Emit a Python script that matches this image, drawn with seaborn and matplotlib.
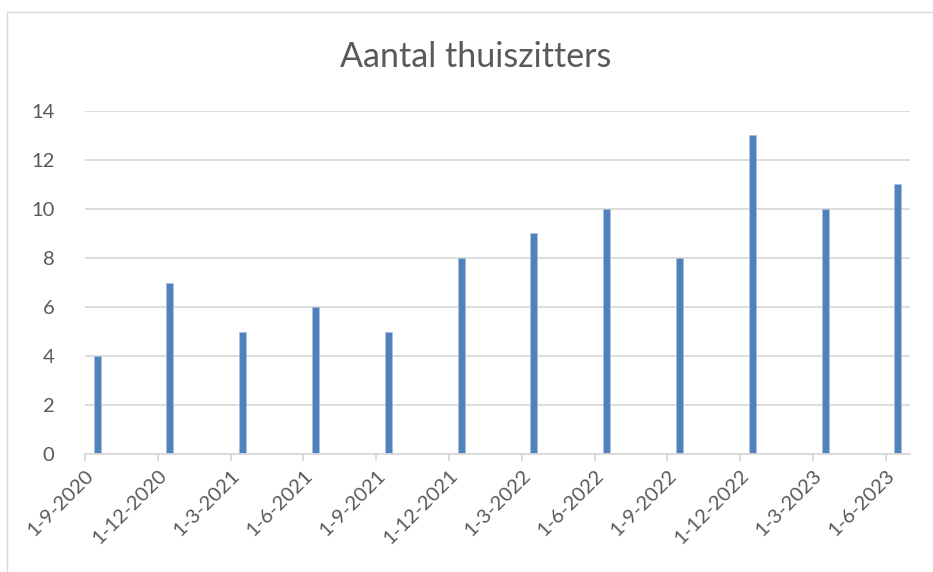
import matplotlib
matplotlib.use("Agg")
import matplotlib.pyplot as plt
from matplotlib.lines import Line2D
import pandas as pd
import seaborn as sns

# data
dates = ["1-9-2020", "1-12-2020", "1-3-2021", "1-6-2021", "1-9-2021", "1-12-2021",
         "1-3-2022", "1-6-2022", "1-9-2022", "1-12-2022", "1-3-2023", "1-6-2023"]
counts = [4, 7, 5, 6, 5, 8, 9, 10, 8, 13, 10, 11]

sns.set_theme(style="white")
plt.rcParams["font.family"] = ["Lato", "DejaVu Sans"]

TEXT = "#595959"
GRID = "#d9d9d9"
BAR = "#4f81bd"

# Excel-style month axis: each bar sits in the middle of its month cell
d = pd.to_datetime(dates, format="%d-%m-%Y")
months = (d.year - 2020) * 12 + (d.month - 9)
df = pd.DataFrame({"month": months + 0.5, "count": counts})

fig = plt.figure(figsize=(9.33, 5.72), dpi=100)
ax = fig.add_axes([85 / 933, 118 / 572, 825 / 933, 343 / 572])

sns.barplot(data=df, x="month", y="count", native_scale=True, width=0.097,
            color=BAR, saturation=1, edgecolor="#a9c0de", linewidth=0.5, ax=ax)

ax.set_xlim(0, 34)
ax.set_ylim(0, 14)
ax.set_yticks(range(0, 15, 2))
ax.set_xticks(months)
ax.set_xticklabels(dates, rotation=45, ha="right", va="top", rotation_mode="anchor")
ax.set_xlabel("")
ax.set_ylabel("")
ax.yaxis.grid(True, color=GRID, linewidth=1.3)
ax.set_axisbelow(True)
for s in ["top", "right", "left"]:
    ax.spines[s].set_visible(False)
ax.spines["bottom"].set_color(GRID)
ax.spines["bottom"].set_linewidth(1.3)
ax.tick_params(axis="x", which="both", bottom=True, length=5, width=1.3,
               color=GRID, labelsize=14.5, labelcolor=TEXT, pad=4)
ax.tick_params(axis="y", length=0, labelsize=14.5, labelcolor=TEXT, pad=22)

fig.text(476 / 933, 1 - 57 / 572, "Aantal thuiszitters", ha="center", va="center",
         fontsize=24.5, color=TEXT)

# chart area border (top and left edges visible in the crop)
fig.add_artist(Line2D([7 / 933, 7 / 933], [0, 1 - 12 / 572], transform=fig.transFigure,
                      color=GRID, linewidth=1))
fig.add_artist(Line2D([7 / 933, 1], [1 - 12 / 572, 1 - 12 / 572], transform=fig.transFigure,
                      color=GRID, linewidth=1))

fig.savefig("out.png", dpi=100)
